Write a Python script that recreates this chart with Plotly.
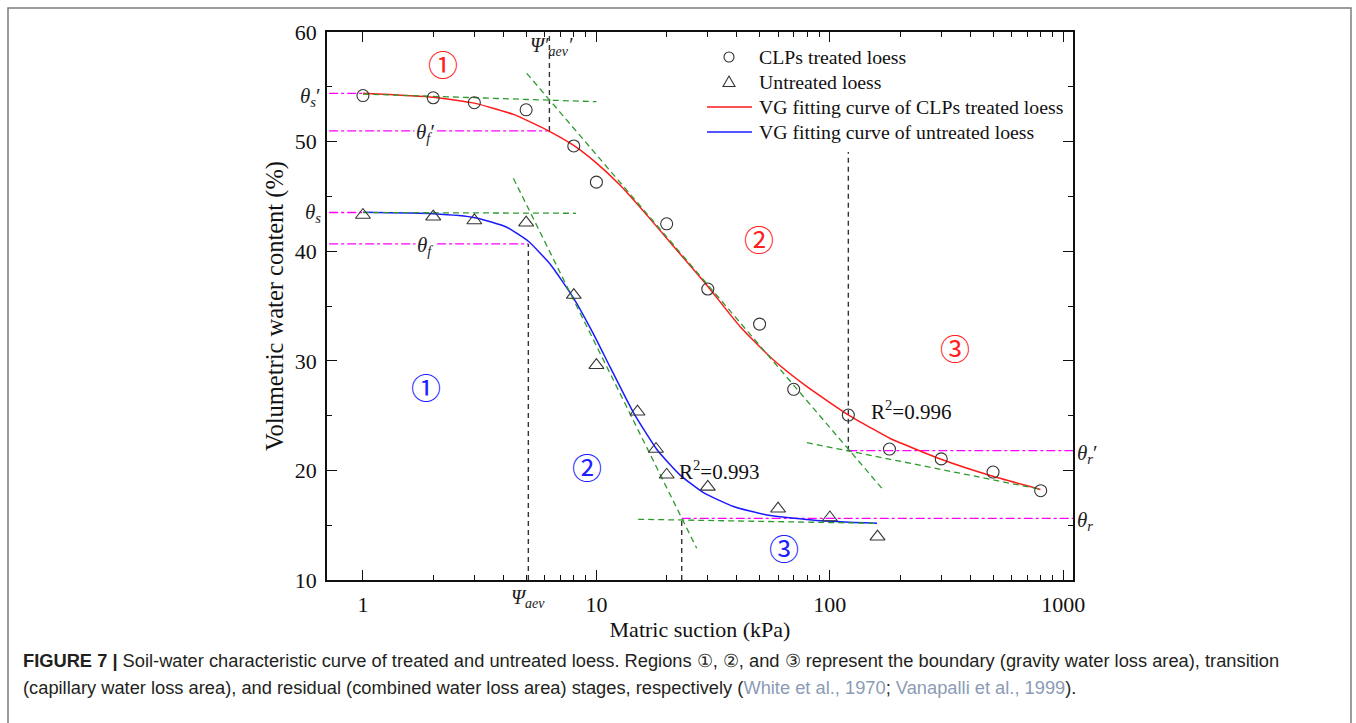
import numpy as np
import plotly.graph_objects as go

# ---------------- data ----------------
treated_suction = [1, 2, 3, 5, 8, 10, 20, 30, 50, 70, 120, 180, 300, 500, 800]
treated_theta = [54.2, 54.0, 53.55, 52.9, 49.6, 46.3, 42.5, 36.55, 33.35, 27.4, 25.05, 21.95, 21.05, 19.85, 18.15]

untreated_suction = [1, 2, 3, 5, 8, 10, 15, 18, 20, 30, 60, 100, 160]
untreated_theta = [43.3, 43.15, 42.8, 42.6, 36.0, 29.6, 25.35, 21.95, 19.6, 18.5, 16.5, 15.7, 13.95]

# VG fitting curves
vg_treated_x = [1, 2, 3, 4.41, 6.29, 8.02, 10.07, 12.64, 15.39, 21.38, 29.73, 41.29, 57.37, 79.77,
                120.3, 149, 181.5, 297.3, 487, 797.8]
vg_treated_y = [54.41, 54.05, 53.51, 52.48, 50.94, 49.63, 47.99, 46.02, 44.01, 40.46, 36.90, 33.11, 30.07, 27.64,
                25.05, 23.91, 22.91, 21.04, 19.53, 18.26]

vg_untreated_x = [1, 2, 3.02, 4.13, 5.11, 6.33, 7.97, 9.71, 11.45, 14.41, 18.15, 22.85, 28.74, 38.66,
                  53.76, 88.06, 159.2]
vg_untreated_y = [43.55, 43.42, 43.06, 42.19, 40.91, 38.83, 35.75, 32.46, 29.42, 25.27, 21.91, 19.57, 17.97, 16.70,
                  15.93, 15.43, 15.17]

# tangent (construction) lines: (x0, x1), (y0, y1)
tan_treated_flat = ([1, 10], [54.34, 53.64])
tan_treated_steep = ([5.03, 167], [56.23, 18.37])
tan_treated_resid = ([79.8, 800], [22.53, 18.27])
tan_untreated_flat = ([1, 8.18], [43.53, 43.46])
tan_untreated_steep = ([4.41, 26.9], [46.65, 12.89])
tan_untreated_resid = ([15.1, 159], [15.54, 15.17])

# characteristic water contents
theta_s_prime, theta_f_prime, theta_r_prime = 54.4, 50.97, 21.8
theta_s, theta_f, theta_r = 43.53, 40.66, 15.63
# characteristic suctions
psi_aev_prime, psi_aev = 6.29, 5.11
psi_res_treated, psi_res_untreated = 120, 23.2

r2_treated, r2_untreated = 0.996, 0.993

legend_labels = ["CLPs treated loess", "Untreated loess",
                 "VG fitting curve of CLPs treated loess", "VG fitting curve of untreated loess"]

x_left, x_right = 0.6, 1300  # line extents (clipped by axes)

# ---------------- layout helpers ----------------
W, H = 1356, 723
ML, MR, MT, MB = 327, 283, 32, 143
PW, PH = W - ML - MR, H - MT - MB


def pxx(px):
    return (px - ML) / PW


def pxy(py):
    return (H - MB - py) / PH


SERIF = "Liberation Serif"
GREEN = "#2e9a2e"
MAG = "#ff00ff"
RED = "#ff1a1a"
BLUE = "#1a1aff"
MK = "#333333"

fig = go.Figure()

# magenta characteristic lines
mag_lines = [
    ([x_left, 1], [theta_s_prime] * 2),
    ([x_left, psi_aev_prime], [theta_f_prime] * 2),
    ([x_left, 1], [theta_s] * 2),
    ([x_left, psi_aev], [theta_f] * 2),
    ([psi_res_treated, x_right], [theta_r_prime] * 2),
    ([psi_res_untreated, x_right], [theta_r] * 2),
]
for xs, ys in mag_lines:
    fig.add_trace(go.Scatter(x=xs, y=ys, mode="lines", showlegend=False, hoverinfo="skip",
                             line=dict(color=MAG, width=1.3, dash="dashdot")))

# black dashed vertical lines
vlines = [
    ([psi_aev_prime] * 2, [theta_f_prime, 60]),
    ([psi_aev] * 2, [10, theta_f]),
    ([psi_res_untreated] * 2, [10, theta_r]),
    ([psi_res_treated] * 2, [theta_r_prime, 49.05]),
]
for xs, ys in vlines:
    fig.add_trace(go.Scatter(x=xs, y=ys, mode="lines", showlegend=False, hoverinfo="skip",
                             line=dict(color="#333333", width=1.4, dash="5px,4px")))

# VG curves
fig.add_trace(go.Scatter(x=vg_treated_x, y=vg_treated_y, mode="lines", name=legend_labels[2], showlegend=False,
                         line=dict(color=RED, width=1.5, shape="spline", smoothing=0.5)))
fig.add_trace(go.Scatter(x=vg_untreated_x, y=vg_untreated_y, mode="lines", name=legend_labels[3], showlegend=False,
                         line=dict(color=BLUE, width=1.5, shape="spline", smoothing=0.5)))

# green tangent lines
for xs, ys in [tan_treated_flat, tan_treated_steep, tan_treated_resid,
               tan_untreated_flat, tan_untreated_steep, tan_untreated_resid]:
    fig.add_trace(go.Scatter(x=xs, y=ys, mode="lines", showlegend=False, hoverinfo="skip",
                             line=dict(color=GREEN, width=1.3, dash="6px,4px")))

# measured points
fig.add_trace(go.Scatter(x=treated_suction, y=treated_theta, mode="markers", name=legend_labels[0],
                         showlegend=False,
                         marker=dict(symbol="circle-open", size=12, color=MK, line=dict(width=1.1))))
fig.add_trace(go.Scatter(x=untreated_suction, y=untreated_theta, mode="markers", name=legend_labels[1],
                         showlegend=False,
                         marker=dict(symbol="triangle-up-open", size=13, color=MK, line=dict(width=1.1))))

ann = []
shapes = []

# ---- legend (drawn by hand for exact row spacing) ----
leg_rows = [57, 82, 107, 132]
leg_sym_x, leg_text_x = 729, 757
for lab, row in zip(legend_labels, leg_rows):
    ann.append(dict(x=pxx(leg_text_x), y=pxy(row), xref="paper", yref="paper", xanchor="left",
                    yanchor="middle", text=lab, showarrow=False,
                    font=dict(family=SERIF, size=19.8, color="#111")))
r = 5
shapes.append(dict(type="circle", xref="paper", yref="paper",
                   x0=pxx(leg_sym_x - r), x1=pxx(leg_sym_x + r),
                   y0=pxy(leg_rows[0] + r), y1=pxy(leg_rows[0] - r),
                   line=dict(color=MK, width=1.1)))
ty = leg_rows[1]
tri = "M {:.5f},{:.5f} L {:.5f},{:.5f} L {:.5f},{:.5f} Z".format(
    pxx(leg_sym_x - 6), pxy(ty + 4.5), pxx(leg_sym_x + 6), pxy(ty + 4.5), pxx(leg_sym_x), pxy(ty - 6))
shapes.append(dict(type="path", xref="paper", yref="paper", path=tri, line=dict(color=MK, width=1.1)))
for row, col in [(leg_rows[2], RED), (leg_rows[3], BLUE)]:
    shapes.append(dict(type="line", xref="paper", yref="paper", x0=pxx(707), x1=pxx(752),
                       y0=pxy(row), y1=pxy(row), line=dict(color=col, width=1.6)))

# region numbers
regions = [
    (2.20, 56.9, "①", "#ff2020"), (49.5, 41.0, "②", "#ff2020"), (345, 31.0, "③", "#ff2020"),
    (1.857, 27.5, "①", "#2020ff"), (9.1, 20.2, "②", "#2020ff"), (63.9, 12.74, "③", "#2020ff"),
]
for x, y, t, c in regions:
    ann.append(dict(x=np.log10(x), y=y, xref="x", yref="y", text=t, showarrow=False,
                    font=dict(family="DejaVu Serif, Noto Sans CJK SC", size=30, color=c)))

# R^2 labels
ann.append(dict(x=np.log10(33.6), y=19.95, xref="x", yref="y", text=f"R<sup>2</sup>={r2_untreated}",
                showarrow=False, font=dict(family=SERIF, size=21, color="#111")))
ann.append(dict(x=np.log10(223), y=25.5, xref="x", yref="y", text=f"R<sup>2</sup>={r2_treated}",
                showarrow=False, font=dict(family=SERIF, size=21, color="#111")))

# theta labels inside plot (white background over the dash-dot lines)
ann.append(dict(x=np.log10(1.86), y=theta_f_prime - 0.2, xref="x", yref="y", text="<i>θ<sub>f</sub></i>′",
                showarrow=False, bgcolor="white", font=dict(family=SERIF, size=21, color="#222")))
ann.append(dict(x=np.log10(1.85), y=theta_f - 0.2, xref="x", yref="y", text="<i>θ<sub>f</sub></i>",
                showarrow=False, bgcolor="white", font=dict(family=SERIF, size=21, color="#222")))

# theta labels outside the plot
ann.append(dict(x=pxx(323), y=pxy(97), xref="paper", yref="paper", xanchor="right", yanchor="middle",
                text="<i>θ<sub>s</sub></i>′", showarrow=False, font=dict(family=SERIF, size=21, color="#222")))
ann.append(dict(x=pxx(323), y=pxy(213), xref="paper", yref="paper", xanchor="right", yanchor="middle",
                text="<i>θ<sub>s</sub></i>", showarrow=False, font=dict(family=SERIF, size=21, color="#222")))
ann.append(dict(x=pxx(1075), y=pxy(454), xref="paper", yref="paper", xanchor="left", yanchor="middle",
                text="<i>θ<sub>r</sub></i>′", showarrow=False, font=dict(family=SERIF, size=21, color="#222")))
ann.append(dict(x=pxx(1075), y=pxy(521), xref="paper", yref="paper", xanchor="left", yanchor="middle",
                text="<i>θ<sub>r</sub></i>", showarrow=False, font=dict(family=SERIF, size=21, color="#222")))

# psi labels
ann.append(dict(x=pxx(551), y=pxy(46), xref="paper", yref="paper", xanchor="center", yanchor="middle",
                text="<i>Ψ′<sub>aev</sub>′</i>", showarrow=False, font=dict(family=SERIF, size=20, color="#222")))
ann.append(dict(x=pxx(528), y=pxy(598), xref="paper", yref="paper", xanchor="center", yanchor="middle",
                text="<i>Ψ<sub>aev</sub></i>", showarrow=False, font=dict(family=SERIF, size=20, color="#222")))

# caption
CAP = dict(family="Liberation Sans", size=18.3, color="#231f20")
cite = "#8c9bb5"
ann.append(dict(x=pxx(21), y=pxy(660), xref="paper", yref="paper", xanchor="left", yanchor="middle",
                showarrow=False, font=CAP,
                text="<b>FIGURE 7 |</b> Soil-water characteristic curve of treated and untreated loess. "
                     "Regions ①, ②, and ③ represent the boundary (gravity water loss area), transition"))
ann.append(dict(x=pxx(21), y=pxy(687), xref="paper", yref="paper", xanchor="left", yanchor="middle",
                showarrow=False, font=CAP,
                text="(capillary water loss area), and residual (combined water loss area) stages, respectively ("
                     f"<span style='color:{cite}'>White et al., 1970</span>; "
                     f"<span style='color:{cite}'>Vanapalli et al., 1999</span>)."))

shapes.append(dict(type="rect", xref="paper", yref="paper", x0=pxx(8), x1=pxx(1351), y0=pxy(740), y1=pxy(8),
                   line=dict(color="#7d7d7d", width=1.5), fillcolor="rgba(0,0,0,0)", layer="below"))

axis_common = dict(showline=True, linecolor="#111", linewidth=1.5, mirror="allticks", ticks="inside",
                   tickcolor="#111", tickwidth=1.3, ticklen=10, showgrid=False, zeroline=False,
                   tickfont=dict(family=SERIF, size=22, color="#111"))

fig.update_layout(
    width=W, height=H, margin=dict(l=ML, r=MR, t=MT, b=MB),
    paper_bgcolor="white", plot_bgcolor="white", showlegend=False,
    xaxis=dict(type="log", range=[-0.154, 3.0415], tickvals=[1, 10, 100, 1000],
               ticktext=["1", "10", "100", "1000"], ticklabelstandoff=4,
               minor=dict(ticks="inside", ticklen=5, tickcolor="#111", tickwidth=1.1,
                          tickvals=[v * m for m in (1, 10, 100) for v in range(2, 10)] + [2000],
                          showgrid=False),
               title=dict(text="Matric suction (kPa)", font=dict(family=SERIF, size=22, color="#111"), standoff=5),
               **axis_common),
    yaxis=dict(range=[10, 60], dtick=10, ticklabelstandoff=4,
               minor=dict(ticks="inside", ticklen=5, tickcolor="#111", tickwidth=1.1, dtick=5, showgrid=False),
               title=dict(text="Volumetric water content (%)", font=dict(family=SERIF, size=24.5, color="#111"),
                          standoff=4),
               **axis_common),
    annotations=ann, shapes=shapes,
)

fig.write_html("out.html")
